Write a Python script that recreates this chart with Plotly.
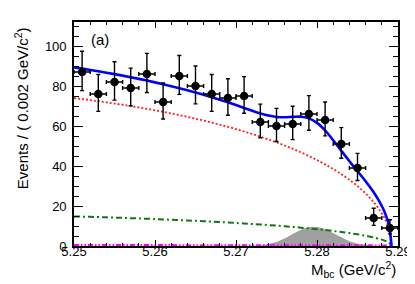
import math
import plotly.graph_objects as go

# ---- data points (bin centres, counts) ----
bin_centers = [5.251, 5.253, 5.255, 5.257, 5.259, 5.261, 5.263, 5.265, 5.267, 5.269,
               5.271, 5.273, 5.275, 5.277, 5.279, 5.281, 5.283, 5.285, 5.287, 5.289]
counts = [87, 76, 82, 79, 86, 72, 85, 80, 76, 74,
          75, 62, 60, 61, 66, 63, 51, 39, 14, 9]
bin_half_width = 0.001

# ---- fitted curves ----
curve_x = [5.250, 5.251, 5.252, 5.253, 5.254, 5.255, 5.256, 5.257, 5.258, 5.259,
           5.260, 5.261, 5.262, 5.263, 5.264, 5.265, 5.266, 5.267, 5.268, 5.269,
           5.270, 5.271, 5.272, 5.273, 5.274, 5.275, 5.276, 5.277, 5.278, 5.279,
           5.280, 5.281, 5.282, 5.283, 5.284, 5.285, 5.286, 5.287, 5.288, 5.2885,
           5.2889, 5.2892]
total_fit = [89.30, 88.68, 88.04, 87.36, 86.67, 85.93, 85.18, 84.39, 83.56, 82.71,
             81.82, 80.88, 79.92, 78.91, 77.85, 76.76, 75.60, 74.41, 73.15, 71.84,
             70.46, 69.02, 67.64, 66.31, 65.20, 64.53, 64.38, 64.58, 64.65, 63.82,
             61.56, 57.79, 52.89, 47.61, 42.40, 37.39, 32.38, 26.86, 20.01, 15.41,
             10.18, 0.0]
continuum_bkg = [74.0, 73.49, 72.97, 72.41, 71.84, 71.24, 70.62, 69.97, 69.29, 68.59,
                 67.85, 67.08, 66.28, 65.45, 64.57, 63.67, 62.71, 61.72, 60.68, 59.59,
                 58.45, 57.25, 55.99, 54.67, 53.28, 51.81, 50.26, 48.61, 46.86, 44.98,
                 42.98, 40.83, 38.48, 35.93, 33.11, 29.93, 26.29, 21.93, 16.29, 12.48,
                 8.19, 0.0]
bb_bkg = [14.80, 14.69, 14.57, 14.45, 14.33, 14.19, 14.06, 13.92, 13.77, 13.62,
          13.47, 13.30, 13.14, 12.96, 12.78, 12.59, 12.39, 12.19, 11.97, 11.75,
          11.51, 11.27, 11.01, 10.75, 10.46, 10.17, 9.86, 9.53, 9.18, 8.80,
          8.40, 7.98, 7.51, 7.01, 6.45, 5.83, 5.12, 4.26, 3.17, 2.43,
          1.59, 0.0]
peaking_bkg = [0.5, 0.5, 0.5, 0.5, 0.5, 0.5, 0.5, 0.5, 0.5, 0.5,
               0.5, 0.5, 0.5, 0.5, 0.5, 0.5, 0.5, 0.5, 0.5, 0.5,
               0.5, 0.5, 0.5, 0.5, 0.5, 0.5, 0.5, 0.5, 0.5, 0.5,
               0.5, 0.5, 0.5, 0.5, 0.5, 0.5, 0.5, 0.5, 0.5, 0.4,
               0.3, 0.0]
signal = [0, 0, 0, 0, 0, 0, 0, 0, 0, 0,
          0, 0, 0, 0, 0, 0, 0, 0, 0, 0,
          0, 0, 0.14, 0.39, 0.96, 2.05, 3.76, 5.94, 8.11, 9.54,
          9.68, 8.48, 6.40, 4.17, 2.34, 1.13, 0.47, 0.17, 0.05, 0,
          0, 0]

# Poisson-like asymmetric errors from the counts
err_hi = [math.sqrt(n + 0.75) + 1 for n in counts]
err_lo = [math.sqrt(n - 0.25) for n in counts]

FONT = "Liberation Sans, Arial, Helvetica, sans-serif"

fig = go.Figure()

fig.add_trace(go.Scatter(x=curve_x, y=signal, mode="lines", fill="tozeroy",
                         fillcolor="#a0a0a0", line=dict(width=0, color="#a0a0a0"),
                         hoverinfo="skip", showlegend=False))
fig.add_trace(go.Scatter(x=curve_x, y=peaking_bkg, mode="lines",
                         line=dict(color="#ff00ff", width=2, dash="5px,2px,1.5px,2px,1.5px,2px"),
                         showlegend=False))
fig.add_trace(go.Scatter(x=curve_x, y=bb_bkg, mode="lines", line_shape="spline",
                         line=dict(color="#117711", width=2, dash="6px,3px,2px,3px"),
                         showlegend=False))
fig.add_trace(go.Scatter(x=curve_x, y=continuum_bkg, mode="lines", line_shape="spline",
                         line=dict(color="#ff2020", width=1.8, dash="2px,2px"),
                         showlegend=False))
fig.add_trace(go.Scatter(x=curve_x, y=total_fit, mode="lines", line_shape="spline",
                         line=dict(color="#0000ff", width=2.6),
                         showlegend=False))
fig.add_trace(go.Scatter(
    x=bin_centers, y=counts, mode="markers",
    marker=dict(color="black", size=8.5, symbol="circle"),
    error_y=dict(type="data", symmetric=False, array=err_hi, arrayminus=err_lo,
                 color="black", thickness=1.4, width=2),
    error_x=dict(type="constant", value=bin_half_width, color="black",
                 thickness=1.4, width=2),
    showlegend=False))

axis_common = dict(showline=True, linecolor="black", linewidth=1.6, mirror="allticks",
                   ticks="inside", tickcolor="black", tickwidth=1.2,
                   showgrid=False, zeroline=False,
                   tickfont=dict(family=FONT, size=13, color="black"))

fig.update_xaxes(range=[5.25, 5.29], tick0=5.25, dtick=0.01, ticklen=6,
                 tickformat=".2f", ticklabelstandoff=-7,
                 minor=dict(dtick=0.002, ticks="inside", ticklen=3, tickcolor="black",
                            tickwidth=1.2, showgrid=False),
                 **axis_common)
fig.update_yaxes(range=[0, 112], tick0=0, dtick=20, ticklen=9,
                 minor=dict(dtick=5, ticks="inside", ticklen=5, tickcolor="black",
                            tickwidth=1.2, showgrid=False),
                 ticklabelstandoff=3,
                 **axis_common)

fig.update_layout(
    width=415, height=284,
    margin=dict(l=66, r=21, t=14, b=46),
    paper_bgcolor="white", plot_bgcolor="white",
    font=dict(family=FONT, color="black"),
    annotations=[
        dict(text="Events / ( 0.002 GeV/c<sup>2</sup>)", xref="paper", yref="paper",
             x=-0.163, y=0.616, xanchor="center", yanchor="middle", textangle=-90,
             showarrow=False, font=dict(family=FONT, size=15, color="black")),
        dict(text="M<sub>bc</sub> (GeV/c<sup>2</sup>)", xref="paper", yref="paper",
             x=1.0, y=-0.105, xanchor="right", yanchor="middle",
             showarrow=False, font=dict(family=FONT, size=15, color="black")),
        dict(text="(a)", xref="paper", yref="paper", x=0.081, y=0.922,
             xanchor="center", yanchor="middle", showarrow=False,
             font=dict(family=FONT, size=15, color="black")),
    ],
)

fig.write_html("out.html")
